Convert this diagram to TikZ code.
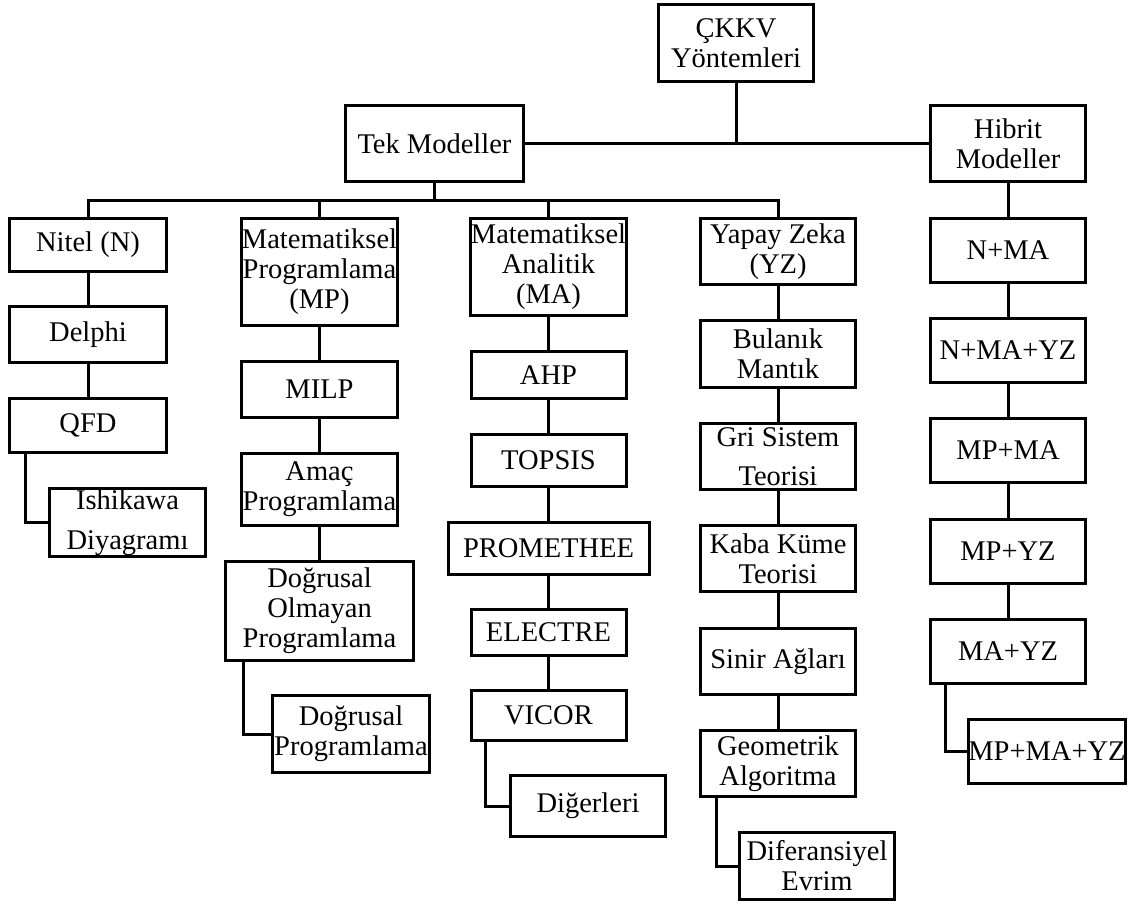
\documentclass[tikz,border=0pt]{standalone}
\usepackage{fontspec}
\setmainfont{Liberation Serif}
\usepackage{tikz}

\tikzset{
    kutu/.style={draw, line width=3pt, align=center, inner sep=0pt, minimum width=155pt, font=\fontsize{28.5}{30}\selectfont},
    hat/.style={line width=3pt}
}

\begin{document}
\begin{tikzpicture}[x=1pt, y=-1pt]
    \useasboundingbox (0,0) rectangle (1135,903);

    \node[kutu, minimum height=77pt] (ckkv) at (736,43) {ÇKKV\\Yöntemleri};
    \node[kutu, minimum width=178pt, minimum height=76pt] (tek) at (434.5,143.5) {Tek Modeller};
    \node[kutu, minimum height=76pt] (hib) at (1008,143.5) {Hibrit\\Modeller};

    \node[kutu, minimum width=157pt, minimum height=53pt] (nit) at (88,245) {Nitel (N)};
    \node[kutu, minimum width=156pt, minimum height=107pt] (mp) at (319.5,272) {Matematiksel\\Programlama\\(MP)};
    \node[kutu, minimum height=97pt] (ma) at (548.5,267) {Matematiksel\\Analitik\\(MA)};
    \node[kutu, minimum height=66pt] (yz) at (778,251.5) {Yapay Zeka\\(YZ)};

    \node[kutu, minimum width=157pt, minimum height=56pt] (delphi) at (88,334.5) {Delphi};
    \node[kutu, minimum width=157pt, minimum height=54pt] (qfd) at (88,425.5) {QFD};
    \node[kutu, minimum width=156pt, minimum height=68pt] (ishi) at (127.5,522.5) {Ishikawa\\[10pt]Diyagramı};

    \node[kutu, minimum width=156pt, minimum height=56pt] (milp) at (319.5,389.5) {MILP};
    \node[kutu, minimum width=156pt, minimum height=72pt] (amac) at (319.5,489.5) {Amaç\\Programlama};
    \node[kutu, minimum width=188pt, minimum height=99pt] (dop) at (319.5,611) {Doğrusal\\Olmayan\\Programlama};
    \node[kutu, minimum width=157pt, minimum height=77pt] (dp) at (351,734) {Doğrusal\\Programlama};

    \node[kutu, minimum height=47pt] (ahp) at (548.5,375) {AHP};
    \node[kutu, minimum height=52pt] (topsis) at (548.5,460.5) {TOPSIS};
    \node[kutu, minimum width=201pt, minimum height=52pt] (prom) at (548.5,548.5) {PROMETHEE};
    \node[kutu, minimum height=46pt] (elec) at (548.5,632.5) {ELECTRE};
    \node[kutu, minimum height=50pt] (vicor) at (548.5,715.5) {VICOR};
    \node[kutu, minimum height=61pt] (dig) at (588,806) {Diğerleri};

    \node[kutu, minimum height=67pt] (bul) at (778,354) {Bulanık\\Mantık};
    \node[kutu, minimum height=66pt] (gri) at (778,456.5) {Gri Sistem\\[9pt]Teorisi};
    \node[kutu, minimum height=66pt] (kaba) at (778,558.5) {Kaba Küme\\Teorisi};
    \node[kutu, minimum height=66pt] (sinir) at (778,661.5) {Sinir Ağları};
    \node[kutu, minimum height=66pt] (geo) at (778,763.5) {Geometrik\\Algoritma};
    \node[kutu, minimum height=67pt] (dif) at (817,866) {Diferansiyel\\Evrim};

    \node[kutu, minimum height=64pt] (nma) at (1008,250.5) {N+MA};
    \node[kutu, minimum height=64pt] (nmayz) at (1008,350.5) {N+MA+YZ};
    \node[kutu, minimum height=64pt] (mpma) at (1008,450.5) {MP+MA};
    \node[kutu, minimum height=64pt] (mpyz) at (1008,551.5) {MP+YZ};
    \node[kutu, minimum height=64pt] (mayz) at (1008,651.5) {MA+YZ};
    \node[kutu, minimum height=64pt] (mpmayz) at (1047,751.5) {MP+MA+YZ};

    \coordinate (bus) at (434.5,200);

    \draw[hat] (ckkv.south) -- (ckkv.south |- tek.east);
    \draw[hat] (tek.east) -- (hib.west);
    \foreach \c in {nit, mp, ma, yz}
        \draw[hat] (tek.south) -- (bus) -| (\c.north);

    \draw[hat] (nit) -- (delphi) -- (qfd);
    \draw[hat] ([xshift=17pt]qfd.south west) |- (ishi.west);
    \draw[hat] (mp) -- (milp) -- (amac) -- (dop);
    \draw[hat] ([xshift=19pt]dop.south west) |- (dp.west);
    \draw[hat] (ma) -- (ahp) -- (topsis) -- (prom) -- (elec) -- (vicor);
    \draw[hat] ([xshift=16pt]vicor.south west) |- (dig.west);
    \draw[hat] (yz) -- (bul) -- (gri) -- (kaba) -- (sinir) -- (geo);
    \draw[hat] ([xshift=17pt]geo.south west) |- (dif.west);
    \draw[hat] (hib) -- (nma) -- (nmayz) -- (mpma) -- (mpyz) -- (mayz);
    \draw[hat] ([xshift=16pt]mayz.south west) |- (mpmayz.west);
\end{tikzpicture}
\end{document}
